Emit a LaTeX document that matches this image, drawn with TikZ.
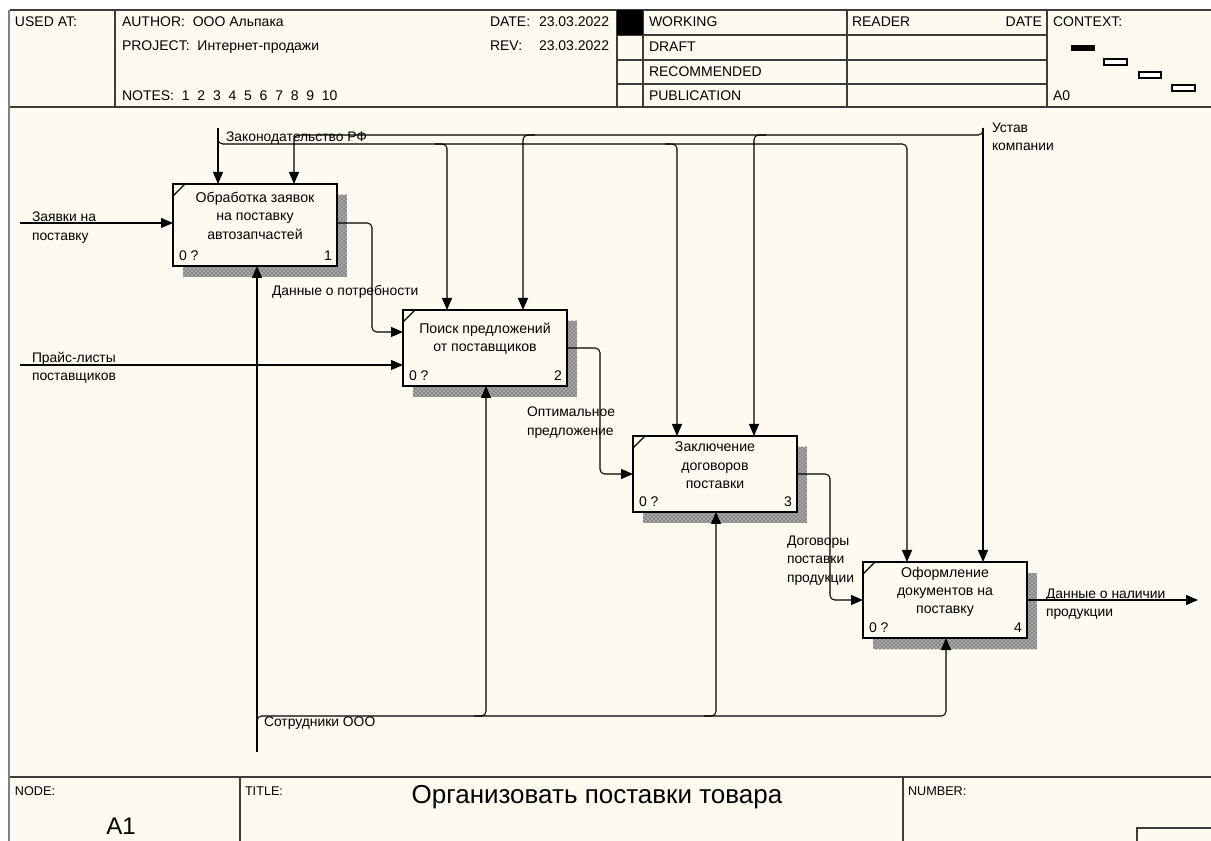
\documentclass[tikz,border=0pt]{standalone}
\usepackage{fontspec}
\setmainfont{Liberation Sans}
\usetikzlibrary{arrows.meta,calc,patterns}
\definecolor{bgc}{RGB}{255,250,240}
\definecolor{gridc}{RGB}{60,60,60}
\begin{document}
\begin{tikzpicture}[x=0.75pt,y=-0.75pt,
  every node/.style={inner sep=0pt, outer sep=0pt},
  hdr/.style={font=\fontsize{10.5}{12}\selectfont, anchor=west, text height=7.5pt, text depth=0pt},
  lbl/.style={font=\fontsize{10.4}{13.75}\selectfont, align=left, anchor=north west},
  ftxt/.style={font=\fontsize{10.6}{13.75}\selectfont, align=center, anchor=north},
  num/.style={font=\fontsize{10.5}{12}\selectfont, text height=7.5pt, text depth=0pt},
  func/.style={draw, line width=1.5pt, fill=bgc, anchor=north west, minimum width=123pt},
  shade/.style={pattern=crosshatch dots, pattern color=black!85},
  hline/.style={draw=gridc, line width=0.9pt},
  conn/.style={line width=0.8pt, rounded corners=3.5pt},
  arr/.style={conn, -{Triangle[length=9pt,width=7.5pt]}}
]
\useasboundingbox (0,0) rectangle (1211,841);
\fill[white] (0,0) rectangle (1211,841);
\fill[bgc] (10,10) rectangle (1211,841);

% ---------- header ----------
\draw[hline] (10,10) -- (1211,10);
\draw[hline] (10,107) -- (1211,107);
\draw[hline] (115,10) -- (115,107);
\foreach \xx in {617,643,847,1047} \draw[hline] (\xx,10) -- (\xx,107);
\foreach \yy in {35,60,84} \draw[hline] (617,\yy) -- (1047,\yy);
\fill (617,10) rectangle (643,35);
\draw[gray, line width=2pt] (9,10) -- (9,841);

\node[hdr] (usedat) at (15,22) {USED AT:};
\node[hdr] (author) at (122,22) {AUTHOR:~~ООО Альпака};
\node[hdr] (project) at (122,46) {PROJECT:~~Интернет-продажи};
\node[hdr] (notes) at (122,96) {NOTES:~~1~~2~~3~~4~~5~~6~~7~~8~~9~~10};
\node[hdr] (datel) at (490,22) {DATE:};
\node[hdr] (datev) at (539,22) {23.03.2022};
\node[hdr] (revl) at (490,46) {REV:};
\node[hdr] (revv) at (539,46) {23.03.2022};
\node[hdr] (working) at (649,22) {WORKING};
\node[hdr] (draft) at (649,47) {DRAFT};
\node[hdr] (recom) at (649,72) {RECOMMENDED};
\node[hdr] (publ) at (649,96) {PUBLICATION};
\node[hdr] (reader) at (852,22) {READER};
\node[hdr, anchor=east] (rdate) at (1042,22) {DATE};
\node[hdr] (context) at (1053,22) {CONTEXT:};
\node[hdr] (a0) at (1053,96) {A0};

\fill (1071,45) rectangle (1095,51);
\draw[line width=0.8pt, fill=white] (1104,59) rectangle (1127,65);
\draw[line width=0.8pt, fill=white] (1139,72) rectangle (1161,78);
\draw[line width=0.8pt, fill=white] (1172,85) rectangle (1195,91);

% ---------- footer ----------
\draw[hline] (10,777) -- (1211,777);
\draw[hline] (240,777) -- (240,841);
\draw[hline] (903,777) -- (903,841);
\draw[hline] (1137,841) -- (1137,828) -- (1211,828);
\node[hdr, font=\fontsize{9.5}{11}\selectfont] (fnode) at (15,790) {NODE:};
\node[hdr, font=\fontsize{9.5}{11}\selectfont] (ftitle) at (245,790) {TITLE:};
\node[hdr, font=\fontsize{9.5}{11}\selectfont] (fnum) at (908,790) {NUMBER:};
\node[font=\fontsize{19.5}{22}\selectfont] (title) at (597,797) {Организовать поставки товара};
\node[font=\fontsize{18}{20}\selectfont] (a1) at (121,826) {A1};

% ---------- shadows ----------
\foreach \sa/\sb in {{183,195}/{347,277},{413,321}/{577,397},{643,447}/{807,523},{873,573}/{1037,649}}{
  \fill[black!35] (\sa) rectangle (\sb);
  \fill[shade] (\sa) rectangle (\sb);
}

% ---------- function boxes ----------
\node[func, minimum height=61.5pt] (b1) at (173,184) {};
\node[func, minimum height=57pt] (b2) at (403,310) {};
\node[func, minimum height=57pt] (b3) at (633,436) {};
\node[func, minimum height=57pt] (b4) at (863,562) {};

\foreach \b in {b1,b2,b3,b4}
  \draw[line width=1pt] ($(\b.north west)+(0,12)$) -- ($(\b.north west)+(12,0)$);

\node[ftxt] (t1) at ($(b1.north)+(0,8)$) {Обработка заявок\\на поставку\\автозапчастей};
\node[ftxt] (t2) at ($(b2.north)+(0,13)$) {Поиск предложений\\от поставщиков};
\node[ftxt] (t3) at ($(b3.north)+(0,6)$) {Заключение\\договоров\\поставки};
\node[ftxt] (t4) at ($(b4.north)+(0,5)$) {Оформление\\документов на\\поставку};

\node[num, anchor=west] (b1z) at ($(b1.south west)+(6,-10)$) {0 ?};
\node[num, anchor=east] (b1n) at ($(b1.south east)+(-5,-10)$) {1};
\node[num, anchor=west] (b2z) at ($(b2.south west)+(6,-10)$) {0 ?};
\node[num, anchor=east] (b2n) at ($(b2.south east)+(-5,-10)$) {2};
\node[num, anchor=west] (b3z) at ($(b3.south west)+(6,-10)$) {0 ?};
\node[num, anchor=east] (b3n) at ($(b3.south east)+(-5,-10)$) {3};
\node[num, anchor=west] (b4z) at ($(b4.south west)+(6,-10)$) {0 ?};
\node[num, anchor=east] (b4n) at ($(b4.south east)+(-5,-10)$) {4};

% ---------- coordinates ----------
\coordinate (b1c1) at ($(b1.north west)+(45,0)$);
\coordinate (b1c2) at ($(b1.north west)+(121,0)$);
\coordinate (b2c1) at ($(b2.north west)+(44,0)$);
\coordinate (b2c2) at ($(b2.north west)+(120,0)$);
\coordinate (b3c1) at ($(b3.north west)+(44,0)$);
\coordinate (b3c2) at ($(b3.north west)+(121,0)$);
\coordinate (b4c1) at ($(b4.north west)+(44,0)$);
\coordinate (b4c2) at ($(b4.north west)+(120,0)$);
\coordinate (b1m) at ($(b1.south west)+(84,0)$);
\coordinate (b2m) at ($(b2.south west)+(83,0)$);
\coordinate (b3m) at ($(b3.south west)+(83,0)$);
\coordinate (b4m) at ($(b4.south west)+(83,0)$);
\coordinate (b1i) at ($(b1.north west)+(0,39)$);
\coordinate (b1o) at ($(b1.north east)+(0,39)$);
\coordinate (b2i1) at ($(b2.north west)+(0,22)$);
\coordinate (b2i2) at ($(b2.north west)+(0,55)$);

\coordinate (topY) at (0,128);
\coordinate (botY) at (0,752);
\coordinate (zakS) at (b1c1 |- topY);
\coordinate (ustS) at (b4c2 |- topY);
\coordinate (sotS) at (b1m |- botY);
\coordinate (outE) at (1198,600);
\coordinate (zayS) at (20,223);
\coordinate (prS) at (20,365);
\coordinate (zakBus) at (0,144);
\coordinate (ustBus) at (0,135);
\coordinate (sotBus) at (0,716);
\coordinate (k1) at (372,0);
\coordinate (k2) at (600,0);
\coordinate (k3) at (830,0);

% ---------- controls ----------
\draw[arr] (zakS) -- (b1c1);
\draw[arr] ($(zakS)+(0,2)$) -- (zakS |- zakBus) -- (b4c1 |- zakBus) -- (b4c1);
\draw[arr] ($(b2c1 |- zakBus)+(-12,0)$) -- (b2c1 |- zakBus) -- (b2c1);
\draw[arr] ($(b3c1 |- zakBus)+(-12,0)$) -- (b3c1 |- zakBus) -- (b3c1);
\draw[arr] (ustS) -- (b4c2);
\draw[arr] (ustS) -- (ustS |- ustBus) -- (b1c2 |- ustBus) -- (b1c2);
\draw[arr] ($(b2c2 |- ustBus)+(12,0)$) -- (b2c2 |- ustBus) -- (b2c2);
\draw[arr] ($(b3c2 |- ustBus)+(12,0)$) -- (b3c2 |- ustBus) -- (b3c2);

% ---------- mechanisms ----------
\draw[arr] (sotS) -- (b1m);
\draw[arr] ($(sotS)+(0,-28)$) -- (sotS |- sotBus) -- (b4m |- sotBus) -- (b4m);
\draw[arr] ($(b2m |- sotBus)+(-12,0)$) -- (b2m |- sotBus) -- (b2m);
\draw[arr] ($(b3m |- sotBus)+(-12,0)$) -- (b3m |- sotBus) -- (b3m);

% ---------- inputs / outputs ----------
\draw[arr] (zayS) -- (b1i);
\draw[arr] (prS) -- (b2i2);
\draw[arr] (b1o) -- (k1 |- b1o) -- (k1 |- b2i1) -- (b2i1);
\draw[arr] (b2.east) -- (k2 |- b2.east) -- (k2 |- b3.west) -- (b3.west);
\draw[arr] (b3.east) -- (k3 |- b3.east) -- (k3 |- b4.west) -- (b4.west);
\draw[arr] (b4.east) -- (outE);

% ---------- arrow labels ----------
\node[lbl] (lzak) at (226,132) {Законодательство РФ};
\node[lbl] (lust) at (992,123) {Устав\\компании};
\node[lbl] (ldp) at (272,285) {Данные о потребности};
\node[lbl] (lopt) at (527,407) {Оптимальное\\предложение};
\node[lbl] (ldog) at (787,536) {Договоры\\поставки\\продукции};
\node[lbl] (lnal) at (1046,589) {Данные о наличии\\продукции};
\node[lbl] (lzay) at (32,212) {Заявки на\\поставку};
\node[lbl] (lpr) at (32,352) {Прайс-листы\\поставщиков};
\node[lbl] (lsot) at (264,717) {Сотрудники ООО};
\end{tikzpicture}
\end{document}
